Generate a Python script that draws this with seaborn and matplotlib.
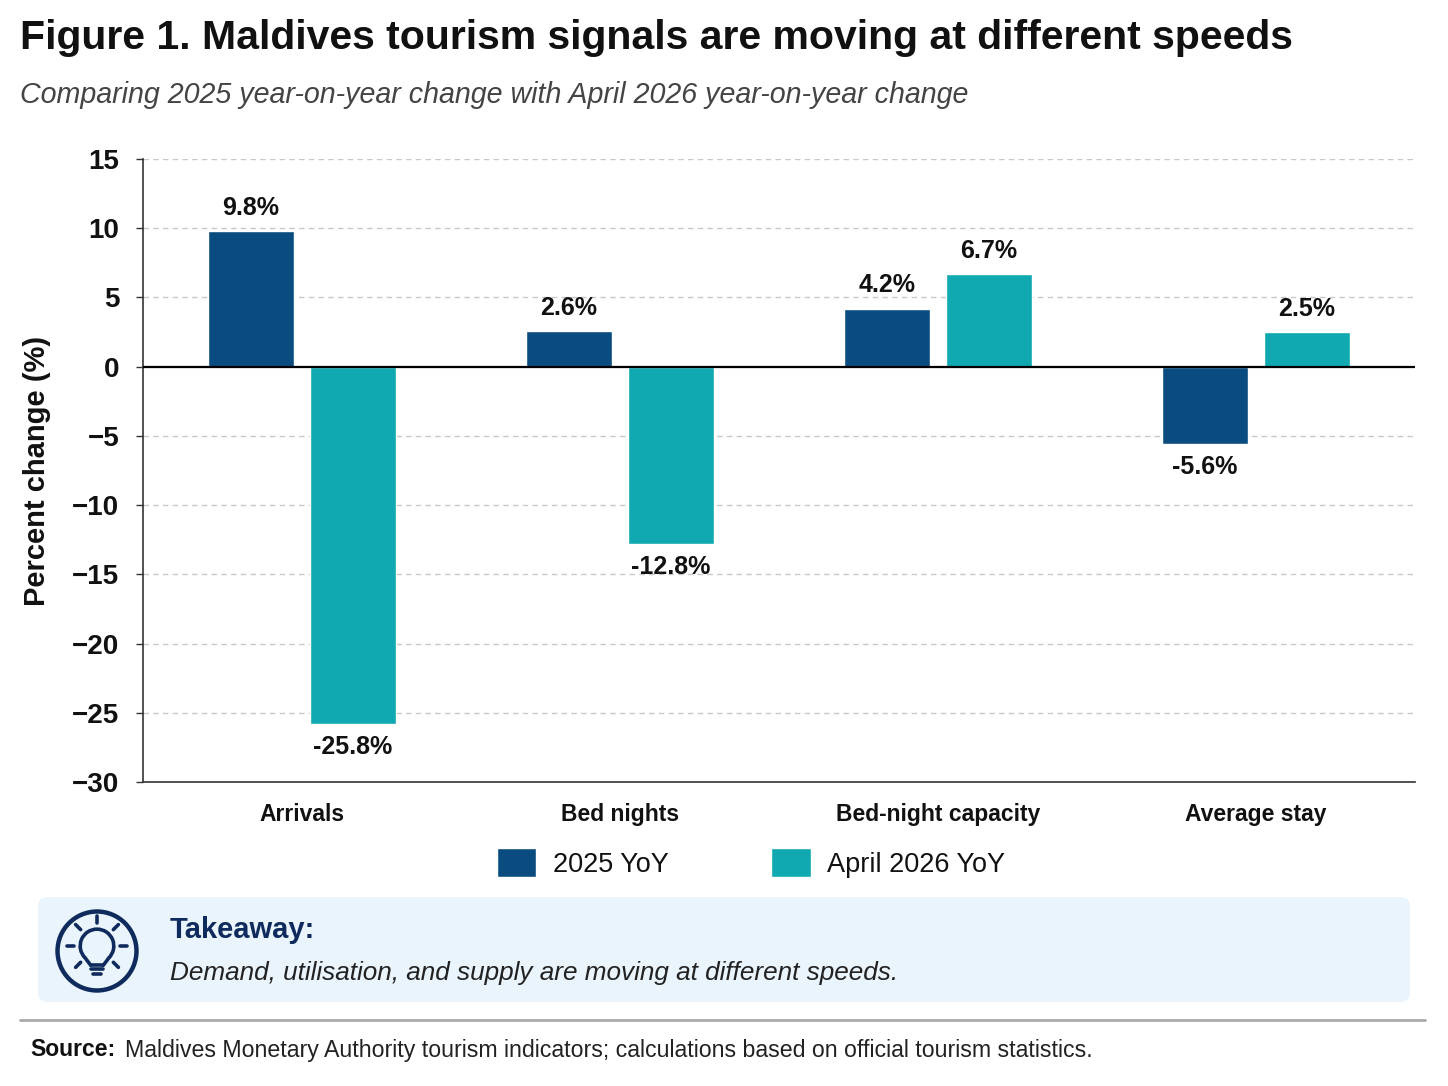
import numpy as np
import pandas as pd
import matplotlib
matplotlib.use("Agg")
import matplotlib.pyplot as plt
import seaborn as sns
from matplotlib.patches import Circle, FancyBboxPatch, Arc

categories = ["Arrivals", "Bed nights", "Bed-night capacity", "Average stay"]
series = ["2025 YoY", "April 2026 YoY"]
yoy_2025 = [9.8, 2.6, 4.2, -5.6]
yoy_apr2026 = [-25.8, -12.8, 6.7, 2.5]
y_ticks = [15, 10, 5, 0, -5, -10, -15, -20, -25, -30]

BLUE = "#0B4C80"
TEAL = "#10A9B1"
NAVY = "#0F2A5C"
INK = "#111111"

df = pd.DataFrame({
    "category": categories * 2,
    "series": [series[0]] * 4 + [series[1]] * 4,
    "value": yoy_2025 + yoy_apr2026,
})

sns.set_theme(style="white")
plt.rcParams["font.family"] = ["Liberation Sans", "DejaVu Sans"]
plt.rcParams["text.color"] = INK
plt.rcParams["axes.labelcolor"] = INK
plt.rcParams["xtick.color"] = INK
plt.rcParams["ytick.color"] = INK

fig = plt.figure(figsize=(14.48, 10.86), dpi=100)
ax = fig.add_axes([143 / 1448, 1 - 782 / 1086, (1415 - 143) / 1448, (782 - 159) / 1086])

sns.barplot(data=df, x="category", y="value", hue="series", hue_order=series,
            palette=[BLUE, TEAL], width=0.64, gap=0.15, ax=ax, legend=True,
            saturation=1)

ax.set_xlim(-0.5, 3.5)
ax.set_ylim(-30, 15)
ax.set_yticks(y_ticks)
for t in y_ticks:
    if t not in (0, -30):
        ax.axhline(t, color="#C8C8C8", lw=1, ls=(0, (4, 3)), zorder=0)
ax.axhline(0, color="black", lw=1.6, zorder=3)

for c in ax.containers:
    labels = [f"{b.get_height():.1f}%" for b in c]
    ax.bar_label(c, labels=labels, padding=8, fontsize=18, fontweight="bold", color=INK)

ax.set_xlabel("")
ax.set_ylabel("Percent change (%)", fontsize=21, fontweight="bold", labelpad=15)
ax.tick_params(axis="y", labelsize=20, length=5, width=1, color="#333333", pad=12, left=True)
ax.tick_params(axis="x", labelsize=16.5, length=0, pad=15)
for lab in ax.get_xticklabels() + ax.get_yticklabels():
    lab.set_fontweight("bold")
for s in ["top", "right"]:
    ax.spines[s].set_visible(False)
for s in ["left", "bottom"]:
    ax.spines[s].set_color("#333333")
    ax.spines[s].set_linewidth(1.2)

ax.legend(loc="center", bbox_to_anchor=(0.478, -0.13), ncol=2, frameon=False,
          fontsize=19.5, handlelength=1.45, handleheight=1.25, handletextpad=0.6,
          columnspacing=3.8)

# titles
fig.text(20 / 1448, 1 - 38 / 1086, "Figure 1. Maldives tourism signals are moving at different speeds",
         fontsize=29.5, fontweight="bold", va="center", ha="left", color=INK)
fig.text(20 / 1448, 1 - 95 / 1086, "Comparing 2025 year-on-year change with April 2026 year-on-year change",
         fontsize=20.6, style="italic", color="#444444", va="center", ha="left")

# takeaway box
box = FancyBboxPatch((38 / 1448, 1 - 1002 / 1086), (1410 - 38) / 1448, (1002 - 897) / 1086,
                     boxstyle="round,pad=0,rounding_size=0.008", transform=fig.transFigure,
                     facecolor="#EAF4FC", edgecolor="none", zorder=-1)
fig.patches.append(box)
fig.text(170 / 1448, 1 - 930 / 1086, "Takeaway:", fontsize=21, fontweight="bold",
         color=NAVY, va="center", ha="left")
fig.text(170 / 1448, 1 - 973 / 1086, "Demand, utilisation, and supply are moving at different speeds.",
         fontsize=18.8, style="italic", color="#222222", va="center", ha="left")

# lightbulb icon
iax = fig.add_axes([55 / 1448, 1 - 993 / 1086, 84 / 1448, 84 / 1086], zorder=2)
iax.set_xlim(-1, 1)
iax.set_ylim(-1, 1)
iax.set_aspect("equal")
iax.axis("off")
iax.add_patch(Circle((0, 0), 0.94, fill=False, ec=NAVY, lw=3.2))
iax.add_patch(Arc((0, 0.12), 0.8, 0.8, theta1=-45, theta2=225, ec=NAVY, lw=2.6))
r = 0.4
for sgn in (-1, 1):
    x0 = sgn * r * np.cos(np.radians(45))
    y0 = 0.12 - r * np.sin(np.radians(45))
    iax.plot([x0, sgn * 0.15], [y0, -0.34], color=NAVY, lw=2.6)
iax.plot([-0.15, 0.15], [-0.34, -0.34], color=NAVY, lw=2.6)
iax.plot([-0.14, 0.14], [-0.44, -0.44], color=NAVY, lw=2.6)
iax.plot([-0.1, 0.1], [-0.54, -0.54], color=NAVY, lw=2.6)
for ang in [0, 45, 90, 135, 180, 225, 315]:
    a = np.radians(ang)
    iax.plot([0.55 * np.cos(a), 0.72 * np.cos(a)],
             [0.12 + 0.55 * np.sin(a), 0.12 + 0.72 * np.sin(a)], color=NAVY, lw=2.6)

# separator and source
fig.add_artist(plt.Line2D([20 / 1448, 1425 / 1448], [1 - 1020 / 1086] * 2,
                          color="#AAAAAA", lw=2, transform=fig.transFigure))
fig.text(30 / 1448, 1 - 1050 / 1086, "Source:", fontsize=16.5, fontweight="bold",
         va="center", ha="left", color=INK)
fig.text(125 / 1448, 1 - 1050 / 1086,
         "Maldives Monetary Authority tourism indicators; calculations based on official tourism statistics.",
         fontsize=16.7, va="center", ha="left", color="#222222")

fig.savefig("out.png", dpi=100, facecolor="white")
